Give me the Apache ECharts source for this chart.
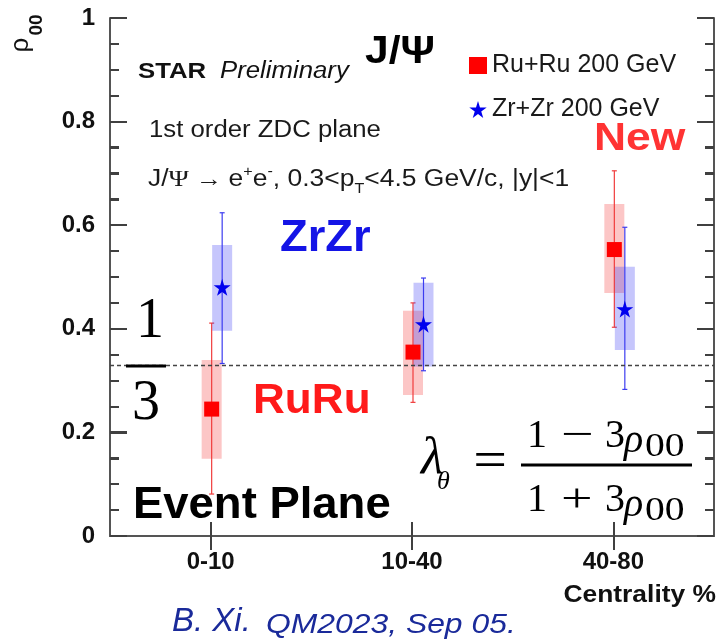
<!DOCTYPE html>
<html>
<head>
<meta charset="utf-8">
<script src="https://cdn.jsdelivr.net/npm/echarts@6/dist/echarts.min.js"></script>
<style>
  html, body { margin: 0; padding: 0; background: #fff; }
  #chart { width: 719px; height: 640px; }
</style>
</head>
<body>
<div id="chart"></div>
<script>
// J/psi spin-alignment rho_00 vs centrality, Ru+Ru and Zr+Zr at 200 GeV
const categories = ['0-10', '10-40', '40-80'];

const ruruRho    = [0.245, 0.355, 0.553];
const ruruStatLo = [0.081, 0.258, 0.403];
const ruruStatHi = [0.411, 0.450, 0.705];
const ruruSysLo  = [0.149, 0.272, 0.469];
const ruruSysHi  = [0.340, 0.435, 0.641];

const zrzrRho    = [0.480, 0.409, 0.438];
const zrzrStatLo = [0.333, 0.319, 0.283];
const zrzrStatHi = [0.624, 0.498, 0.596];
const zrzrSysLo  = [0.396, 0.327, 0.359];
const zrzrSysHi  = [0.562, 0.489, 0.520];

const yTickLabels = ['0', '0.2', '0.4', '0.6', '0.8', '1'];
const yMajorStep = 0.2;
const yMinorPerMajor = 4;
const unpolarizedRho = 1 / 3;

const GRID = { left: 110, right: 5, top: 18, bottom: 104 };
const SANS = '"Liberation Sans", Arial, sans-serif';
const SERIF = '"Liberation Serif", "Times New Roman", serif';
const RED = '#ff1a1a';
const BLUE = '#1414e6';
const TICK = '#404040';
const STAR = 'path://M50,0 L61,36 L98,36 L68,58 L79,94 L50,72 L21,94 L32,58 L2,36 L39,36 Z';

// horizontal offsets (px) so the two systems sit side by side
const ruruDx = 1;
const zrzrDx = 11.5;

function rows(v, lo, hi, slo, shi) {
  return categories.map((c, i) => [i, v[i], lo[i], hi[i], slo[i], shi[i]]);
}

function uncertaintyRenderer(stroke, fill, dx) {
  return function (params, api) {
    const i = api.value(0);
    const x = api.coord([i, api.value(1)])[0] + dx;
    const yLo = api.coord([i, api.value(2)])[1];
    const yHi = api.coord([i, api.value(3)])[1];
    const ySLo = api.coord([i, api.value(4)])[1];
    const ySHi = api.coord([i, api.value(5)])[1];
    const half = 10, cap = 2.5;
    return {
      type: 'group',
      children: [
        { type: 'rect', shape: { x: x - half, y: ySHi, width: 2 * half, height: ySLo - ySHi },
          style: { fill: fill } },
        { type: 'line', shape: { x1: x, y1: yHi, x2: x, y2: yLo },
          style: { stroke: stroke, lineWidth: 1.2 } },
        { type: 'line', shape: { x1: x - cap, y1: yHi, x2: x + cap, y2: yHi },
          style: { stroke: stroke, lineWidth: 1.2 } },
        { type: 'line', shape: { x1: x - cap, y1: yLo, x2: x + cap, y2: yLo },
          style: { stroke: stroke, lineWidth: 1.2 } }
      ]
    };
  };
}

// rho_00 tick values with a flag for the labelled (major) ones
const yTickMarks = [];
yTickLabels.forEach((lab, k) => {
  const base = k * yMajorStep;
  yTickMarks.push([base, 1]);
  if (k < yTickLabels.length - 1) {
    for (let m = 1; m < yMinorPerMajor; m++) {
      yTickMarks.push([base + m * yMajorStep / yMinorPerMajor, 0]);
    }
  }
});

function txt(text, x, y, font, fill, opts) {
  opts = opts || {};
  return {
    type: 'text', x: x, y: y, z: 20,
    scaleX: opts.sx || 1, scaleY: opts.sy || 1,
    rotation: opts.rot || 0,
    style: {
      text: text, font: font, fill: fill,
      align: opts.align || 'left', textAlign: opts.align || 'left',
      verticalAlign: 'middle', textVerticalAlign: 'middle'
    }
  };
}

// lays a run of text pieces one after another, measuring each piece
const measureCtx = document.createElement('canvas').getContext('2d');
function run(pieces, x0, y, fill, sx) {
  const out = [];
  let x = x0;
  pieces.forEach(p => {
    out.push(txt(p.t, x, y + (p.dy || 0), p.font, fill, { sx: sx }));
    measureCtx.font = p.font;
    x += measureCtx.measureText(p.t).width * sx;
  });
  return out;
}

const reg = '23px ' + SANS;
const sup = '14px ' + SANS;
const kinematics = run([
  { t: 'J/', font: reg },
  { t: 'Ψ', font: '24px ' + SERIF },
  { t: ' → ', font: '23px ' + SERIF },
  { t: 'e', font: reg },
  { t: '+', font: sup, dy: -8 },
  { t: 'e', font: reg },
  { t: '-', font: sup, dy: -8 },
  { t: ', 0.3<p', font: reg },
  { t: 'T', font: sup, dy: 9 },
  { t: '<4.5 GeV/c, |y|<1', font: reg }
], 148, 180, '#1a1a1a', 1.15);

const graphics = [
  // y-axis title
  txt('ρ', 21, 45, '26px ' + SANS, '#111', { rot: Math.PI / 2, align: 'center' }),
  txt('00', 37, 25, 'bold 19px ' + SANS, '#111', { rot: Math.PI / 2, align: 'center' }),
  // header texts
  txt('STAR', 138, 72, 'bold 22px ' + SANS, '#111', { sx: 1.17 }),
  txt('Preliminary', 220, 72, 'italic 23px ' + SANS, '#111', { sx: 1.12 }),
  txt('J/Ψ', 365, 53, 'bold 38px ' + SANS, '#000', { sx: 1.12 }),
  txt('1st order ZDC plane', 149, 131, '23px ' + SANS, '#1a1a1a', { sx: 1.12 }),
  txt('New', 594, 139, 'bold 39px ' + SANS, '#ff3333', { sx: 1.14 }),
  txt('ZrZr', 280, 239, 'bold 44px ' + SANS, BLUE, { sx: 1.03 }),
  txt('RuRu', 253, 401, 'bold 42px ' + SANS, RED, { sx: 1.05 }),
  txt('Event Plane', 133, 506, 'bold 45px ' + SANS, '#000', { sx: 1.01 }),
  // 1/3 reference
  txt('1', 150, 322, '56px ' + SERIF, '#000', { align: 'center' }),
  { type: 'rect', shape: { x: 126, y: 364.5, width: 40, height: 3 }, style: { fill: '#000' }, z: 20 },
  txt('3', 146, 404, '56px ' + SERIF, '#000', { align: 'center' }),
  // lambda_theta formula
  txt('λ', 421, 459, 'italic 52px ' + SERIF, '#000'),
  txt('θ', 437, 482, 'italic 26px ' + SERIF, '#000'),
  txt('=', 490, 463, '52px ' + SERIF, '#000', { align: 'center', sx: 1.15 }),
  { type: 'rect', shape: { x: 521, y: 463.5, width: 171, height: 3 }, style: { fill: '#000' }, z: 20 },
  txt('1', 527, 436, '40px ' + SERIF, '#000'),
  txt('−', 561, 436, '40px ' + SERIF, '#000', { sx: 1.45 }),
  txt('3', 605, 436, '40px ' + SERIF, '#000'),
  txt('ρ', 624, 441, 'italic 40px ' + SERIF, '#000'),
  txt('00', 645, 447, '33px ' + SERIF, '#000', { sx: 1.2 }),
  txt('1', 527, 500, '40px ' + SERIF, '#000'),
  txt('+', 561, 500, '40px ' + SERIF, '#000', { sx: 1.4 }),
  txt('3', 605, 500, '40px ' + SERIF, '#000'),
  txt('ρ', 624, 505, 'italic 40px ' + SERIF, '#000'),
  txt('00', 645, 511, '33px ' + SERIF, '#000', { sx: 1.2 }),
  // axis title and credit
  txt('Centrality %', 716, 595, 'bold 24px ' + SANS, '#111', { align: 'right', sx: 1.1 }),
  txt('B. Xi.', 172, 622, 'italic 33px ' + SANS, '#1a2a9a'),
  txt('QM2023, Sep 05.', 266, 625, 'italic 27px ' + SANS, '#1a2a9a', { sx: 1.18 })
].concat(kinematics);

const frameLine = { show: true, lineStyle: { color: '#555', width: 2 } };

const chart = echarts.init(document.getElementById('chart'), null, { renderer: 'canvas' });
chart.setOption({
  animation: false,
  backgroundColor: '#fff',
  grid: { left: GRID.left, right: GRID.right, top: GRID.top, bottom: GRID.bottom, containLabel: false },
  legend: {
    orient: 'vertical', left: 464, top: 48,
    itemWidth: 18, itemHeight: 17, itemGap: 19,
    textStyle: { fontFamily: SANS, fontSize: 25, color: '#1a1a1a', lineHeight: 25 },
    data: [
      { name: 'Ru+Ru 200 GeV', icon: 'rect' },
      { name: 'Zr+Zr 200 GeV', icon: STAR }
    ]
  },
  xAxis: [
    {
      type: 'category', data: categories, position: 'bottom', boundaryGap: true,
      axisLine: frameLine,
      axisTick: { show: true, inside: true, alignWithLabel: true, length: 14,
        lineStyle: { color: TICK, width: 2 } },
      axisLabel: { fontFamily: SANS, fontWeight: 'bold', fontSize: 24, color: '#111', margin: 14 },
      splitLine: { show: false }
    },
    {
      type: 'category', data: categories, position: 'top', boundaryGap: true,
      axisLine: frameLine,
      axisTick: { show: true, inside: true, alignWithLabel: true, length: 14,
        lineStyle: { color: TICK, width: 2 } },
      axisLabel: { show: false }, splitLine: { show: false }
    }
  ],
  yAxis: [
    {
      type: 'value', min: 0, max: 1, interval: yMajorStep, position: 'left',
      axisLine: frameLine,
      axisTick: { show: true, inside: true, length: 17, lineStyle: { color: TICK, width: 2 } },
      minorTick: { show: true, splitNumber: yMinorPerMajor, length: 9, lineStyle: { color: TICK, width: 2 } },
      axisLabel: {
        fontFamily: SANS, fontWeight: 'bold', fontSize: 24, color: '#111', margin: 15,
        formatter: v => yTickLabels[Math.round(v / yMajorStep)]
      },
      splitLine: { show: false }
    },
    {
      type: 'value', min: 0, max: 1, interval: yMajorStep, position: 'right',
      axisLine: frameLine,
      axisTick: { show: true, inside: true, length: 17, lineStyle: { color: TICK, width: 2 } },
      minorTick: { show: true, splitNumber: yMinorPerMajor, length: 9, lineStyle: { color: TICK, width: 2 } },
      axisLabel: { show: false }, splitLine: { show: false }
    }
  ],
  series: [
    {
      name: 'Ru+Ru uncertainties', type: 'custom', z: 2, yAxisIndex: 0,
      renderItem: uncertaintyRenderer('#f03c3c', 'rgba(246,50,50,0.28)', ruruDx),
      data: rows(ruruRho, ruruStatLo, ruruStatHi, ruruSysLo, ruruSysHi),
      markLine: {
        silent: true, symbol: 'none', label: { show: false },
        lineStyle: { color: '#444', type: [4, 3], width: 1.3 },
        data: [{ yAxis: unpolarizedRho }]
      }
    },
    {
      name: 'Zr+Zr uncertainties', type: 'custom', z: 3, yAxisIndex: 0,
      renderItem: uncertaintyRenderer('#3c3cf0', 'rgba(50,50,246,0.28)', zrzrDx),
      data: rows(zrzrRho, zrzrStatLo, zrzrStatHi, zrzrSysLo, zrzrSysHi)
    },
    {
      name: 'Ru+Ru 200 GeV', type: 'scatter', z: 5, yAxisIndex: 0,
      symbol: 'rect', symbolSize: 15, symbolOffset: [ruruDx, 0],
      itemStyle: { color: '#ff0000', opacity: 1 },
      data: ruruRho
    },
    {
      name: 'Zr+Zr 200 GeV', type: 'scatter', z: 6, yAxisIndex: 0,
      symbol: STAR, symbolSize: 17, symbolOffset: [zrzrDx, 0],
      itemStyle: { color: '#0000ee', opacity: 1 },
      data: zrzrRho
    }
  ],
  graphic: graphics
});

// inward frame ticks on both vertical edges, positioned through the y scale
const frameLeft = GRID.left;
const frameRight = chart.getWidth() - GRID.right;
const frameTicks = [];
yTickMarks.forEach(([v, major]) => {
  const y = Math.round(chart.convertToPixel({ yAxisIndex: 0 }, v));
  const len = major ? 17 : 9;
  frameTicks.push({ type: 'rect', z: 30, silent: true,
    shape: { x: frameLeft, y: y - 1, width: len, height: 2 }, style: { fill: TICK } });
  frameTicks.push({ type: 'rect', z: 30, silent: true,
    shape: { x: frameRight - len, y: y - 1, width: len, height: 2 }, style: { fill: TICK } });
});
chart.setOption({ graphic: graphics.concat(frameTicks) });
</script>
</body>
</html>
